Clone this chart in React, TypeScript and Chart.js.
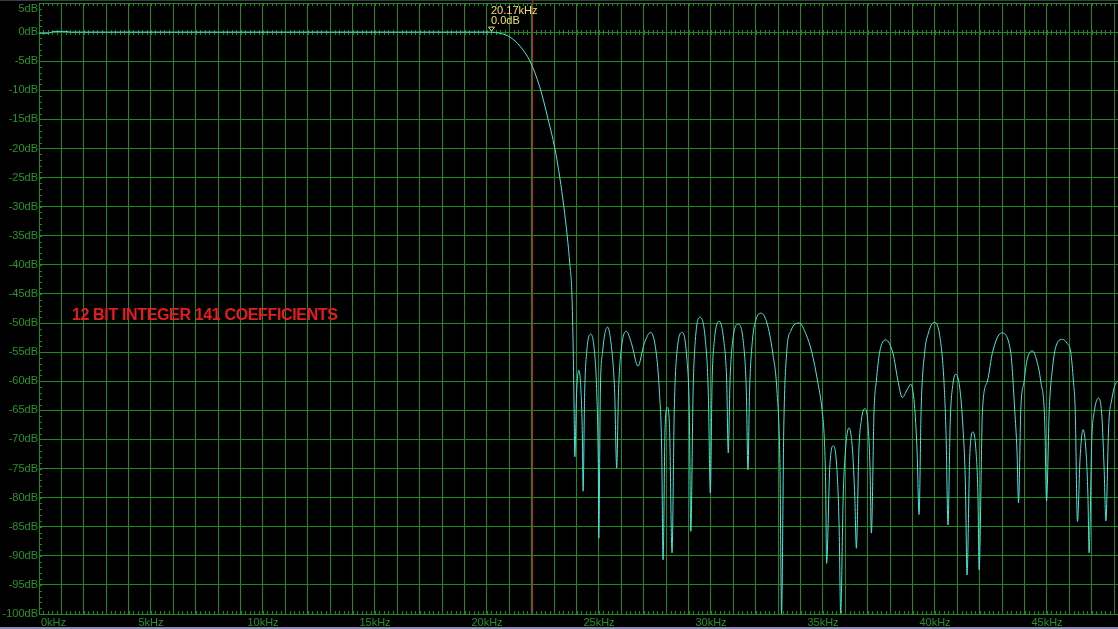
import { useEffect, useRef } from 'react';
import { Chart, registerables } from 'chart.js';

Chart.register(...registerables);

const freqKHz = [
  0, 0.4, 0.7, 1.2, 1.4, 20.17, 20.59, 21.03, 21.47, 21.92, 22.36, 22.73, 23.03, 23.25, 23.43, 23.58,
  23.7, 23.79, 23.85, 23.89, 23.92, 24.0, 24.1, 24.2, 24.26, 24.29, 24.36, 24.45, 24.63, 24.8, 24.9,
  24.97, 24.99, 25.06, 25.16, 25.38, 25.58, 25.7, 25.79, 25.87, 25.98, 26.22, 26.45, 26.74, 27.02,
  27.31, 27.55, 27.7, 27.8, 27.86, 27.95, 28.05, 28.15, 28.26, 28.36, 28.48, 28.72, 28.92, 29.03,
  29.1, 29.2, 29.3, 29.52, 29.75, 29.88, 29.97, 30.05, 30.15, 30.37, 30.57, 30.7, 30.77, 30.85, 30.97,
  31.22, 31.45, 31.58, 31.65, 31.72, 31.85, 32.0, 32.23, 32.5, 32.75, 32.95, 33.08, 33.15, 33.25,
  33.38, 33.57, 33.94, 34.25, 34.5, 34.76, 34.96, 35.06, 35.12, 35.16, 35.3, 35.46, 35.62, 35.72,
  35.79, 35.9, 36.0, 36.16, 36.32, 36.42, 36.49, 36.6, 36.72, 36.86, 37.0, 37.1, 37.16, 37.28, 37.38,
  37.53, 37.8, 38.13, 38.35, 38.54, 38.75, 38.92, 39.08, 39.2, 39.29, 39.38, 39.54, 39.69, 39.96,
  40.2, 40.4, 40.5, 40.58, 40.68, 40.8, 40.93, 41.1, 41.25, 41.36, 41.43, 41.55, 41.7, 41.83, 41.92,
  41.97, 42.12, 42.34, 42.57, 42.97, 43.38, 43.56, 43.66, 43.73, 43.83, 43.98, 44.1, 44.35, 44.58,
  44.72, 44.9, 44.98, 45.1, 45.25, 45.4, 45.69, 45.9, 46.06, 46.18, 46.26, 46.36, 46.48, 46.61, 46.74,
  46.83, 46.88, 47.0, 47.12, 47.3, 47.45, 47.55, 47.63, 47.75, 47.9, 48.05, 48.17,
];
const levelDb = [
  -0.2, -0.2, 0.12, 0.12, 0, 0, -0.2, -0.86, -2.4, -5.0, -9.5, -15, -20, -25, -30, -35,
  -40, -45, -55, -65, -73, -62, -58.1, -62, -70, -78.9, -62, -55, -51.9, -55, -62,
  -75, -87, -62, -55, -50.7, -55, -62, -74.9, -62, -55, -51.4, -53.5, -57.4, -53.5,
  -51.6, -55, -62, -72, -90.7, -68, -64.5, -68, -89.5, -65, -55, -51.6, -56, -65,
  -85.8, -62, -53, -49, -53, -62, -79.2, -60, -53, -49.7, -53, -60, -72.3, -60, -53,
  -50.2, -53.5, -62, -75.2, -62, -53, -49.5, -48.3, -50, -55, -62, -75, -100, -68,
  -55, -51.3, -50, -52, -55, -60, -65, -70, -78, -91.3, -75, -71.1, -75, -85,
  -99.9, -80, -72, -68, -72, -80, -88.7, -72, -66.5, -64.7, -67, -75, -86.1, -65, -60,
  -55, -52.9, -55.3, -60, -62.8, -61.5, -60.5, -64, -72, -82.9, -65, -55, -51.9, -49.9,
  -51.9, -60, -70, -84.7, -67, -60.5, -58.8, -61, -68, -78, -93.3, -73, -68.7, -72, -80,
  -92.4, -65, -60, -55, -51.7, -55, -65, -72, -80.9, -65, -60, -56.5, -54.8, -57,
  -60, -67, -80.6, -65, -57.6, -54, -52.8, -53.5, -55, -60, -65, -84.1, -73, -68.3, -72,
  -80, -89.5, -70, -65, -62.9, -66, -75, -84, -68, -63, -60.5, -60,
];

const xLabelKHz = [0, 5, 10, 15, 20, 25, 30, 35, 40, 45];
const yLabelDb = [5, 0, -5, -10, -15, -20, -25, -30, -35, -40, -45, -50, -55, -60, -65, -70, -75, -80, -85, -90, -95, -100];

const markerKHz = 20.17;
const markerDb = 0.0;
const cursorKHz = 22.0;
const noteText = '12 BIT INTEGER 141 COEFFICIENTS';

const GRID = '#1c8a1c';
const LABEL = '#279527';
const CURVE = '#4ee4dc';
const FONT = '11px "Liberation Sans", Arial, sans-serif';

const scopePlugin = {
  id: 'scope',
  beforeDraw(chart: any) {
    const { ctx, width, height } = chart;
    ctx.save();
    ctx.fillStyle = '#000';
    ctx.fillRect(0, 0, width, height);
    ctx.fillStyle = '#3a3a48';
    ctx.fillRect(0, 0, width, 1);
    ctx.fillStyle = '#8c8cb8';
    ctx.fillRect(0, height - 2, width, 2);
    ctx.restore();
  },
  beforeDatasetsDraw(chart: any) {
    const { ctx, chartArea, scales } = chart;
    const { left, top, bottom } = chartArea;
    const x = scales.x;
    const y = scales.y;
    ctx.save();
    ctx.strokeStyle = GRID;
    ctx.lineWidth = 1;
    ctx.beginPath();
    // minor ticks every 0.2 kHz on top, 0 dB and bottom lines
    const y0 = Math.round(y.getPixelForValue(0)) + 0.5;
    for (let f = 0; f <= x.max; f += 0.2) {
      const px = Math.round(x.getPixelForValue(f)) + 0.5;
      ctx.moveTo(px, bottom);
      ctx.lineTo(px, bottom - 3);
      ctx.moveTo(px, top);
      ctx.lineTo(px, top + 3);
      ctx.moveTo(px, y0 - 2.5);
      ctx.lineTo(px, y0 + 2.5);
    }
    // minor ticks every 1 dB on the left edge
    for (let d = y.min; d <= y.max; d += 1) {
      const py = Math.round(y.getPixelForValue(d)) + 0.5;
      ctx.moveTo(left, py);
      ctx.lineTo(left + 3, py);
    }
    ctx.stroke();

    const cx = Math.round(x.getPixelForValue(cursorKHz)) + 0.5;
    ctx.strokeStyle = '#c41e1e';
    ctx.beginPath();
    ctx.moveTo(cx, 0);
    ctx.lineTo(cx, bottom);
    ctx.stroke();
    ctx.restore();
  },
  afterDatasetsDraw(chart: any) {
    const { ctx, chartArea, scales } = chart;
    const { left, bottom } = chartArea;
    const x = scales.x;
    const y = scales.y;
    ctx.save();
    ctx.font = FONT;
    ctx.fillStyle = LABEL;
    ctx.textBaseline = 'middle';

    ctx.textAlign = 'right';
    yLabelDb.forEach((d) => {
      const py = Math.max(y.getPixelForValue(d), 9);
      ctx.fillText(`${d}dB`, left - 1, py);
    });

    ctx.textAlign = 'left';
    xLabelKHz.forEach((f) => {
      const label = `${f}kHz`;
      const w = ctx.measureText(label).width;
      const px = Math.max(x.getPixelForValue(f) - w / 2, left + 2);
      ctx.fillText(label, px, bottom + 9);
    });

    // marker
    const mx = Math.round(x.getPixelForValue(markerKHz)) + 0.5;
    const my = y.getPixelForValue(markerDb);
    ctx.fillStyle = '#ece070';
    ctx.strokeStyle = '#ece070';
    ctx.fillText(`${markerKHz.toFixed(2)}kHz`, mx - 0.5, my - 21);
    ctx.fillText(`${markerDb.toFixed(1)}dB`, mx - 0.5, my - 11);
    ctx.beginPath();
    ctx.moveTo(mx - 3, my - 5);
    ctx.lineTo(mx + 3, my - 5);
    ctx.lineTo(mx, my - 1);
    ctx.closePath();
    ctx.stroke();

    // note
    ctx.font = 'bold 16px "Liberation Sans", Arial, sans-serif';
    (ctx as any).letterSpacing = '-0.35px';
    ctx.fillStyle = '#e81c1c';
    ctx.textAlign = 'left';
    ctx.fillText(noteText, x.getPixelForValue(1.47), y.getPixelForValue(-48.8));
    ctx.restore();
  },
};

const App = () => {
  const chartRef = useRef<HTMLCanvasElement>(null);
  const chartInstance = useRef<Chart | null>(null);

  useEffect(() => {
    document.body.style.margin = '0';
    document.body.style.background = '#000';
    if (chartInstance.current) {
      chartInstance.current.destroy();
    }
    const ctx = chartRef.current?.getContext('2d');
    if (!ctx) return;

    const points = freqKHz.map((f, i) => ({ x: f, y: levelDb[i] }));

    chartInstance.current = new Chart(ctx, {
      type: 'line',
      data: {
        datasets: [
          {
            data: points,
            borderColor: CURVE,
            borderWidth: 1,
            pointRadius: 0,
            fill: false,
            cubicInterpolationMode: 'monotone',
          },
        ],
      },
      options: {
        animation: false,
        responsive: false,
        events: [],
        layout: { padding: { left: 39, top: 3, right: 0, bottom: 15 } },
        plugins: {
          legend: { display: false },
          tooltip: { enabled: false },
        },
        scales: {
          x: {
            type: 'linear',
            min: 0,
            max: 48.17,
            ticks: { display: false, stepSize: 1, includeBounds: false },
            grid: { color: GRID, lineWidth: 1, drawTicks: false },
            border: { color: GRID },
          },
          y: {
            type: 'linear',
            min: -100,
            max: 5,
            ticks: { display: false, stepSize: 5 },
            grid: { color: GRID, lineWidth: 1, drawTicks: false },
            border: { color: GRID },
          },
        },
      },
      plugins: [scopePlugin],
    });

    return () => {
      if (chartInstance.current) {
        chartInstance.current.destroy();
        chartInstance.current = null;
      }
    };
  }, []);

  return (
    <div style={{ width: 1118, height: 629 }}>
      <canvas ref={chartRef} width={1118} height={629} />
    </div>
  );
};

export default App;
